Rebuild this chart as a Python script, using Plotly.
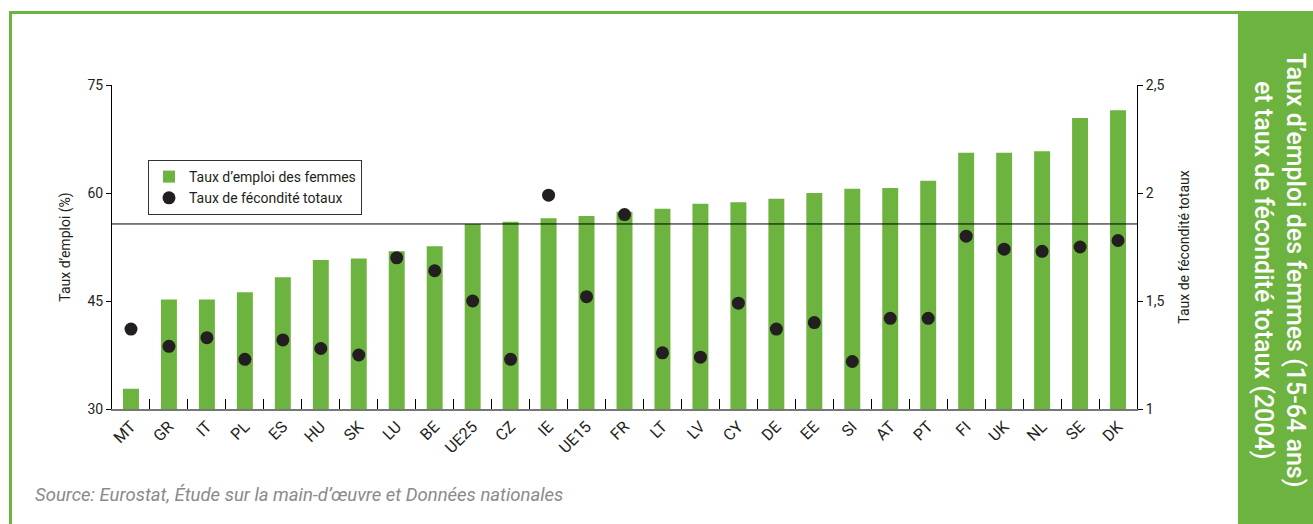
import plotly.graph_objects as go

categories = ["MT", "GR", "IT", "PL", "ES", "HU", "SK", "LU", "BE", "UE25", "CZ", "IE", "UE15", "FR",
              "LT", "LV", "CY", "DE", "EE", "SI", "AT", "PT", "FI", "UK", "NL", "SE", "DK"]
employment = [32.8, 45.2, 45.2, 46.2, 48.3, 50.7, 50.9, 51.9, 52.6, 55.7, 56.0, 56.5, 56.8, 57.4,
              57.8, 58.5, 58.7, 59.2, 60.0, 60.6, 60.7, 61.7, 65.6, 65.6, 65.8, 70.4, 71.5]
fertility = [1.37, 1.29, 1.33, 1.23, 1.32, 1.28, 1.25, 1.70, 1.64, 1.50, 1.23, 1.99, 1.52, 1.90,
             1.26, 1.24, 1.49, 1.37, 1.40, 1.22, 1.42, 1.42, 1.80, 1.74, 1.73, 1.75, 1.78]
left_ticks = [30, 45, 60, 75]
right_ticks = [1, 1.5, 2, 2.5]
reference_label = "UE25"

GREEN = "#6db33f"
DARK = "#231f20"
FONT = "Roboto, Open Sans, sans-serif"

W, H = 1313, 524
L, R, T, B = 112, 1137, 85, 409


def px_x(p):
    return (p - L) / (R - L)


def px_y(p):
    return (B - p) / (B - T)


fig = go.Figure()
fig.add_trace(go.Bar(
    x=categories, y=employment, name="Taux d’emploi des femmes",
    marker=dict(color=GREEN, line=dict(width=0)),
))
fig.add_trace(go.Scatter(
    x=categories, y=fertility, name="Taux de fécondité totaux", yaxis="y2",
    mode="markers", marker=dict(color=DARK, size=13),
))

ref_val = employment[categories.index(reference_label)]

shapes = [
    dict(type="line", xref="paper", yref="y", x0=0, x1=1, y0=ref_val, y1=ref_val,
         line=dict(color="black", width=1), layer="above"),
    # frame
    dict(type="line", xref="paper", yref="paper", x0=px_x(10.5), x1=px_x(10.5),
         y0=px_y(11), y1=px_y(530), line=dict(color=GREEN, width=3)),
    dict(type="line", xref="paper", yref="paper", x0=px_x(9), x1=px_x(1240),
         y0=px_y(12.5), y1=px_y(12.5), line=dict(color=GREEN, width=3)),
    dict(type="rect", xref="paper", yref="paper", x0=px_x(1238), x1=px_x(1325),
         y0=px_y(530), y1=px_y(11), fillcolor=GREEN, line=dict(width=0)),
]

annotations = [
    dict(text="Taux d’emploi des femmes (15-64 ans)<br>et taux de fécondité totaux (2004)",
         xref="paper", yref="paper", x=px_x(1279), y=px_y(270), textangle=90,
         showarrow=False, align="center", xanchor="center", yanchor="middle",
         font=dict(family="Roboto, sans-serif", size=25, color="white", weight=500)),
    dict(text="<i>Source: Eurostat, Étude sur la main-d’œuvre et Données nationales</i>",
         xref="paper", yref="paper", x=px_x(33), y=px_y(495), xanchor="left", yanchor="middle",
         showarrow=False, font=dict(family=FONT, size=18.5, color="#8a8a8a")),
]

fig.update_layout(
    width=W, height=H,
    margin=dict(l=L, r=W - R, t=T, b=H - B, pad=0),
    paper_bgcolor="white", plot_bgcolor="white",
    separators=", ",
    font=dict(family=FONT, size=14, color=DARK),
    bargap=0.58,
    showlegend=True,
    legend=dict(x=px_x(148), y=px_y(160), xanchor="left", yanchor="top",
                bordercolor="#333333", borderwidth=1, bgcolor="white",
                font=dict(size=14, color=DARK), itemwidth=30,
                tracegroupgap=0),
    xaxis=dict(type="category", tickson="boundaries", ticks="inside", ticklen=10,
               tickcolor="black", tickwidth=1, showline=True, linecolor="#777777", linewidth=2,
               tickangle=-45, tickfont=dict(size=16, color=DARK), showgrid=False,
               automargin=False, range=[-0.5, len(categories) - 0.5]),
    yaxis=dict(range=[30, 75], tickvals=left_ticks, ticks="outside", ticklen=5, tickcolor="black",
               showline=True, linecolor="black", linewidth=1, showgrid=False, zeroline=False,
               title=dict(text="Taux d’emploi (%)", standoff=13, font=dict(size=14)),
               automargin=False, tickfont=dict(size=14)),
    yaxis2=dict(range=[1, 2.5], tickvals=right_ticks, overlaying="y", side="right",
                ticks="outside", ticklen=5, tickcolor="black", showline=True, linecolor="black",
                linewidth=1, showgrid=False, zeroline=False, automargin=False,
                title=dict(text="Taux de fécondité totaux", standoff=15, font=dict(size=14)),
                tickfont=dict(size=14)),
    shapes=shapes,
    annotations=annotations,
)

fig.write_html("out.html", config={"displayModeBar": False},
               post_script="document.body.style.margin='0px';")
